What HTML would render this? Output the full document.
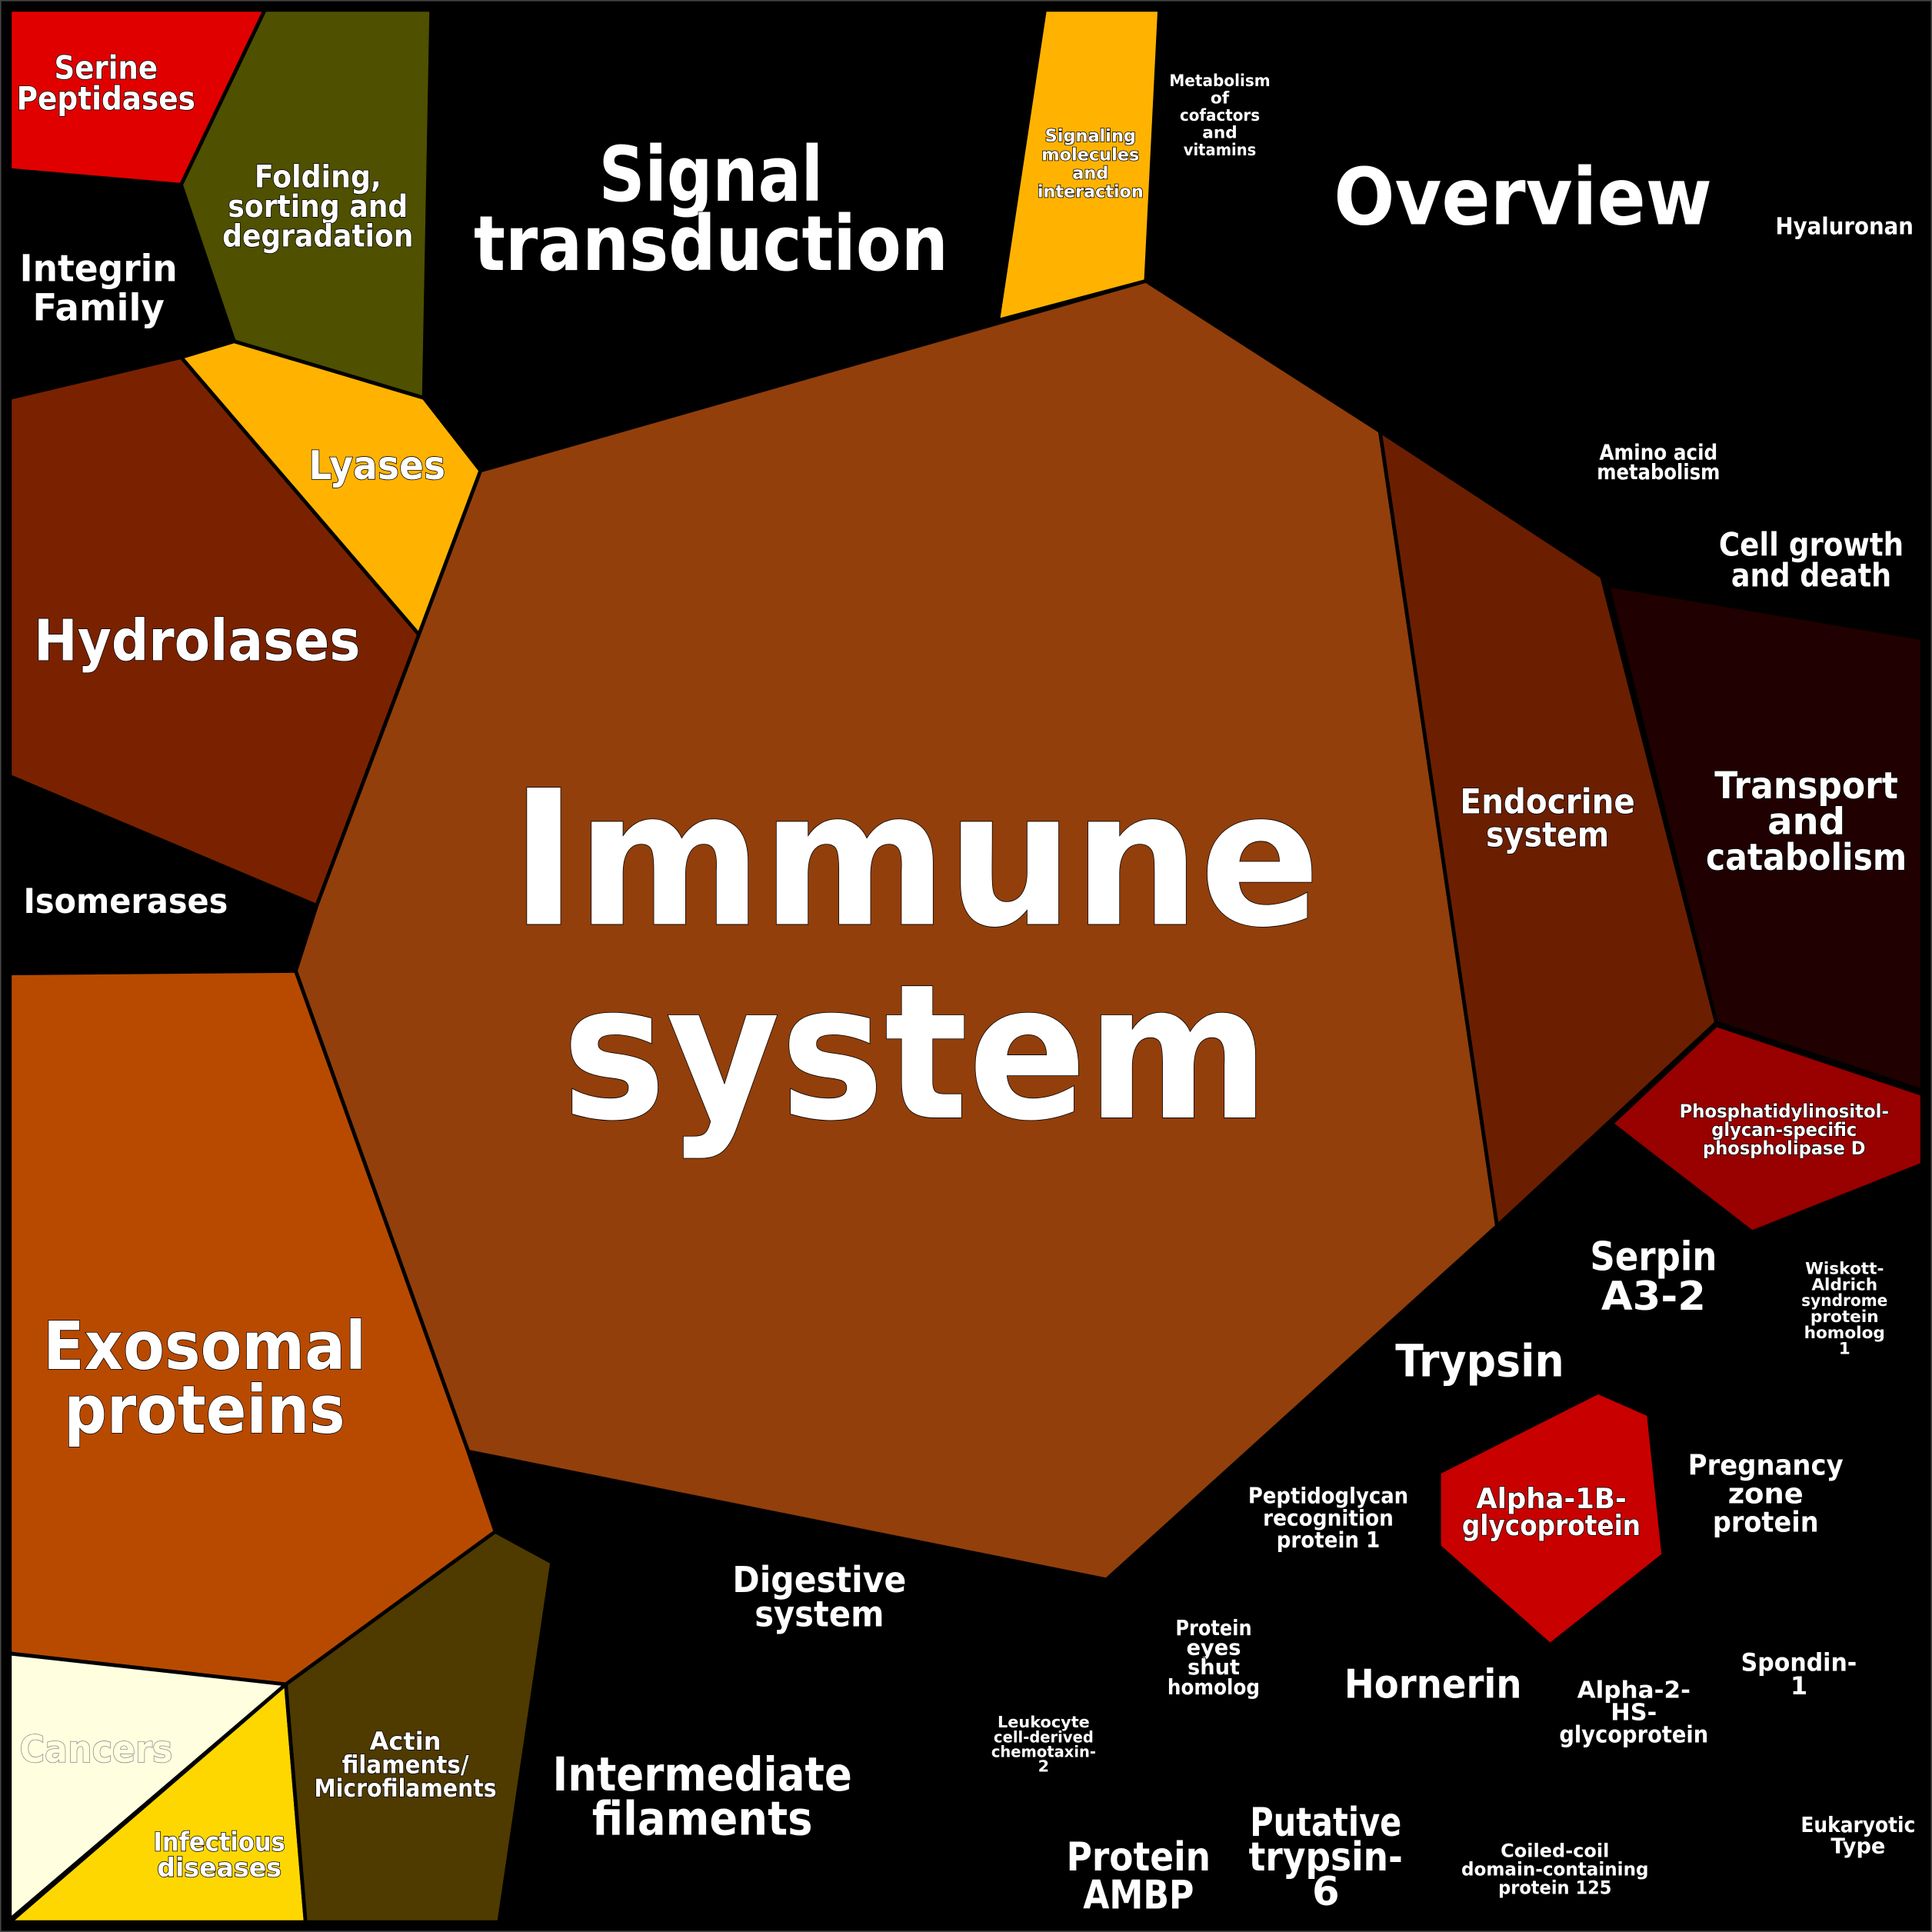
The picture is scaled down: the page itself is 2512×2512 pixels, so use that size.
<!DOCTYPE html>
<html><head><meta charset="utf-8"><style>
html,body{margin:0;padding:0;background:#000;}
svg{display:block}
text{font-family:"DejaVu Sans","Liberation Sans",sans-serif;font-weight:bold;fill:#fff;text-anchor:middle;stroke:#000;stroke-width:1;paint-order:stroke}
.s{font-size:92%}
</style></head><body>
<svg width="2512" height="2512" viewBox="0 0 1568 1568" xmlns="http://www.w3.org/2000/svg">
<rect x="0" y="0" width="1568" height="1568" fill="#000" stroke="#444" stroke-width="2"/>
<g stroke="#000" stroke-width="3" stroke-linejoin="round">
<polygon points="8,8 215,8 147,150 8,138" fill="#e00000"/>
<polygon points="215,8 350,8 344,323 190,277 147,150" fill="#4f5000"/>
<polygon points="147,290 190,277 344,323 390,382 340,515" fill="#ffb300"/>
<polygon points="8,323 147,290 340,515 257,735 8,630" fill="#7a2200"/>
<polygon points="390,382 930,228 1120,350 1215,995 898,1282 380,1178 240,788 257,735 340,515" fill="#923f0b"/>
<polygon points="848,8 941,8 930,228 810,260" fill="#ffb300"/>
<polygon points="1120,350 1300,468 1393,830 1215,995" fill="#6b1f00"/>
<polygon points="1305,475 1560,518 1560,885 1393,830" fill="#200000"/>
<polygon points="1393,832 1560,888 1560,945 1422,1000 1308,912" fill="#990000"/>
<polygon points="8,790 240,788 380,1178 402,1243 232,1367 8,1342" fill="#b84a00"/>
<polygon points="8,1342 232,1367 8,1558" fill="#ffffe0"/>
<polygon points="232,1367 248,1560 8,1560" fill="#ffd700"/>
<polygon points="232,1367 402,1243 448,1268 405,1560 248,1560" fill="#4f3a00"/>
<polygon points="1168,1195 1297,1130 1338,1148 1350,1262 1258,1335 1168,1255" fill="#c80000"/>
</g>
<g lengthAdjust="spacingAndGlyphs">
<text x="86" y="64" font-size="26" textLength="84" lengthAdjust="spacingAndGlyphs">Serine</text>
<text x="86" y="89" font-size="26" textLength="145" lengthAdjust="spacingAndGlyphs">Peptidases</text>
<text x="258" y="152" font-size="25" textLength="103" lengthAdjust="spacingAndGlyphs">Folding,</text>
<text x="258" y="176" font-size="25" textLength="146" lengthAdjust="spacingAndGlyphs">sorting and</text>
<text x="258" y="200" font-size="25" textLength="155" lengthAdjust="spacingAndGlyphs">degradation</text>
<text x="80" y="228" font-size="30" textLength="128" lengthAdjust="spacingAndGlyphs">Integrin</text>
<text x="80" y="260" font-size="30" textLength="107" lengthAdjust="spacingAndGlyphs">Family</text>
<text x="306" y="389" font-size="32" textLength="111" lengthAdjust="spacingAndGlyphs">Lyases</text>
<text x="160" y="536" font-size="46" textLength="265" lengthAdjust="spacingAndGlyphs">Hydrolases</text>
<text x="102" y="741" font-size="28" textLength="166" lengthAdjust="spacingAndGlyphs">Isomerases</text>
<text x="577" y="163" font-size="62" textLength="182" lengthAdjust="spacingAndGlyphs">Signal</text>
<text x="577" y="219" font-size="62" textLength="385" lengthAdjust="spacingAndGlyphs">transduction</text>
<text x="885" y="115" font-size="14">Signaling</text>
<text x="885" y="130" font-size="14">molecules</text>
<text x="885" y="145" font-size="14">and</text>
<text x="885" y="160" font-size="14" textLength="86" lengthAdjust="spacingAndGlyphs">interaction</text>
<text x="990" y="70" font-size="13.5" textLength="82" lengthAdjust="spacingAndGlyphs">Metabolism</text>
<text x="990" y="84" font-size="13.5">of</text>
<text x="990" y="98" font-size="13.5" textLength="65" lengthAdjust="spacingAndGlyphs">cofactors</text>
<text x="990" y="112" font-size="13.5">and</text>
<text x="990" y="126" font-size="13.5" textLength="59" lengthAdjust="spacingAndGlyphs">vitamins</text>
<text x="1236" y="182" font-size="64" textLength="307" lengthAdjust="spacingAndGlyphs">Overview</text>
<text x="1497" y="190" font-size="19" textLength="112" lengthAdjust="spacingAndGlyphs">Hyaluronan</text>
<text x="1346" y="373" font-size="17" textLength="96" lengthAdjust="spacingAndGlyphs">Amino acid</text>
<text x="1346" y="389" font-size="17" textLength="100" lengthAdjust="spacingAndGlyphs">metabolism</text>
<text x="1470" y="451" font-size="26" textLength="150" lengthAdjust="spacingAndGlyphs">Cell growth</text>
<text x="1470" y="476" font-size="26" textLength="130" lengthAdjust="spacingAndGlyphs">and death</text>
<text x="1466" y="648" font-size="30" textLength="149" lengthAdjust="spacingAndGlyphs">Transport</text>
<text x="1466" y="677" font-size="30">and</text>
<text x="1466" y="706" font-size="30" textLength="163" lengthAdjust="spacingAndGlyphs">catabolism</text>
<text x="1256" y="660" font-size="28" textLength="142" lengthAdjust="spacingAndGlyphs">Endocrine</text>
<text x="1256" y="687" font-size="28" textLength="100" lengthAdjust="spacingAndGlyphs">system</text>
<text x="743" y="750" font-size="152" textLength="657" lengthAdjust="spacingAndGlyphs">Immune</text>
<text x="743" y="907" font-size="152" textLength="574" lengthAdjust="spacingAndGlyphs">system</text>
<text x="1448" y="907" font-size="15" textLength="170" lengthAdjust="spacingAndGlyphs">Phosphatidylinositol-</text>
<text x="1448" y="922" font-size="15" textLength="118" lengthAdjust="spacingAndGlyphs">glycan-specific</text>
<text x="1448" y="937" font-size="15" textLength="132" lengthAdjust="spacingAndGlyphs">phospholipase D</text>
<text x="1342" y="1031" font-size="32" textLength="103" lengthAdjust="spacingAndGlyphs">Serpin</text>
<text x="1342" y="1063" font-size="32" textLength="85" lengthAdjust="spacingAndGlyphs">A3-2</text>
<text x="1497" y="1034" font-size="13.5">Wiskott-</text>
<text x="1497" y="1047" font-size="13.5">Aldrich</text>
<text x="1497" y="1060" font-size="13.5" textLength="70" lengthAdjust="spacingAndGlyphs">syndrome</text>
<text x="1497" y="1073" font-size="13.5">protein</text>
<text x="1497" y="1086" font-size="13.5">homolog</text>
<text x="1497" y="1099" font-size="13.5">1</text>
<text x="1201" y="1117" font-size="36" textLength="137" lengthAdjust="spacingAndGlyphs">Trypsin</text>
<text x="166" y="1111" font-size="54" textLength="262" lengthAdjust="spacingAndGlyphs">Exosomal</text>
<text x="166" y="1163" font-size="54" textLength="228" lengthAdjust="spacingAndGlyphs">proteins</text>
<text x="1433" y="1197" font-size="23" textLength="126" lengthAdjust="spacingAndGlyphs">Pregnancy</text>
<text x="1433" y="1220" font-size="23">zone</text>
<text x="1433" y="1243" font-size="23" textLength="86" lengthAdjust="spacingAndGlyphs">protein</text>
<text x="1259" y="1224" font-size="23" textLength="122" lengthAdjust="spacingAndGlyphs">Alpha-1B-</text>
<text x="1259" y="1246" font-size="23" textLength="145" lengthAdjust="spacingAndGlyphs">glycoprotein</text>
<text x="1078" y="1220" font-size="18" textLength="130" lengthAdjust="spacingAndGlyphs">Peptidoglycan</text>
<text x="1078" y="1238" font-size="18" textLength="106" lengthAdjust="spacingAndGlyphs">recognition</text>
<text x="1078" y="1256" font-size="18" textLength="84" lengthAdjust="spacingAndGlyphs">protein 1</text>
<text x="665" y="1292" font-size="29" textLength="141" lengthAdjust="spacingAndGlyphs">Digestive</text>
<text x="665" y="1320" font-size="29" textLength="105" lengthAdjust="spacingAndGlyphs">system</text>
<text x="985" y="1327" font-size="17" textLength="62" lengthAdjust="spacingAndGlyphs">Protein</text>
<text x="985" y="1343" font-size="17">eyes</text>
<text x="985" y="1359" font-size="17">shut</text>
<text x="985" y="1375" font-size="17" textLength="75" lengthAdjust="spacingAndGlyphs">homolog</text>
<text x="1163" y="1378" font-size="32" textLength="144" lengthAdjust="spacingAndGlyphs">Hornerin</text>
<text x="1326" y="1378" font-size="19" textLength="92" lengthAdjust="spacingAndGlyphs">Alpha-2-</text>
<text x="1326" y="1396" font-size="19">HS-</text>
<text x="1326" y="1414" font-size="19" textLength="121" lengthAdjust="spacingAndGlyphs">glycoprotein</text>
<text x="1460" y="1356" font-size="20" textLength="94" lengthAdjust="spacingAndGlyphs">Spondin-</text>
<text x="1460" y="1375" font-size="20">1</text>
<text x="847" y="1402" font-size="13">Leukocyte</text>
<text x="847" y="1414" font-size="13" textLength="81" lengthAdjust="spacingAndGlyphs">cell-derived</text>
<text x="847" y="1426" font-size="13" textLength="85" lengthAdjust="spacingAndGlyphs">chemotaxin-</text>
<text x="847" y="1438" font-size="13">2</text>
<text x="78" y="1430" font-size="30" textLength="124" lengthAdjust="spacingAndGlyphs" style="fill:#ffffe0;stroke:#888">Cancers</text>
<text x="329" y="1420" font-size="20">Actin</text>
<text x="329" y="1439" font-size="20" textLength="103" lengthAdjust="spacingAndGlyphs">filaments/</text>
<text x="329" y="1458" font-size="20" textLength="148" lengthAdjust="spacingAndGlyphs">Microfilaments</text>
<text x="570" y="1453" font-size="38" textLength="243" lengthAdjust="spacingAndGlyphs">Intermediate</text>
<text x="570" y="1489" font-size="38" textLength="179" lengthAdjust="spacingAndGlyphs">filaments</text>
<text x="178" y="1502" font-size="21" textLength="107" lengthAdjust="spacingAndGlyphs">Infectious</text>
<text x="178" y="1523" font-size="21" textLength="101" lengthAdjust="spacingAndGlyphs">diseases</text>
<text x="1076" y="1490" font-size="32" textLength="123" lengthAdjust="spacingAndGlyphs">Putative</text>
<text x="1076" y="1518" font-size="32" textLength="125" lengthAdjust="spacingAndGlyphs">trypsin-</text>
<text x="1076" y="1546" font-size="32">6</text>
<text x="924" y="1518" font-size="32" textLength="117" lengthAdjust="spacingAndGlyphs">Protein</text>
<text x="924" y="1549" font-size="32" textLength="90" lengthAdjust="spacingAndGlyphs">AMBP</text>
<text x="1262" y="1507" font-size="15">Coiled-coil</text>
<text x="1262" y="1522" font-size="15" textLength="152" lengthAdjust="spacingAndGlyphs">domain-containing</text>
<text x="1262" y="1537" font-size="15" textLength="92" lengthAdjust="spacingAndGlyphs">protein 125</text>
<text x="1508" y="1487" font-size="17" textLength="93" lengthAdjust="spacingAndGlyphs">Eukaryotic</text>
<text x="1508" y="1504" font-size="17">Type</text>
</g>
</svg>
</body></html>
